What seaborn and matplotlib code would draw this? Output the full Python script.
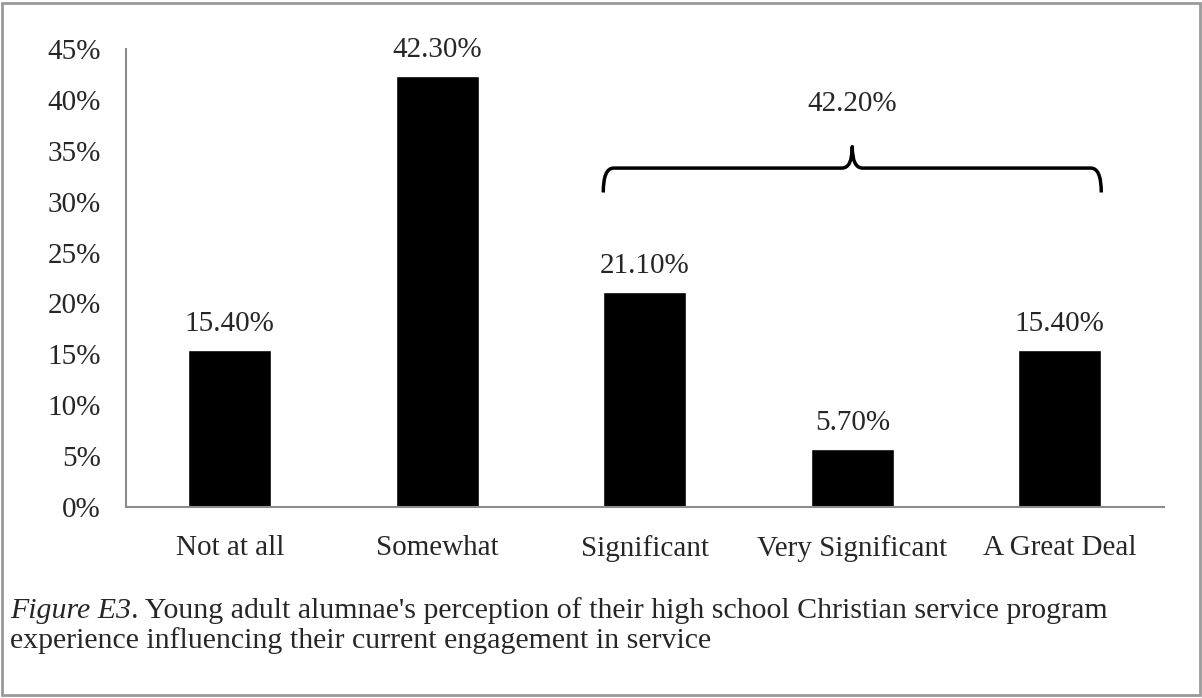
import matplotlib
matplotlib.use("Agg")
import matplotlib.pyplot as plt
from matplotlib.path import Path
from matplotlib.patches import PathPatch, Rectangle
import seaborn as sns
import pandas as pd

categories = ["Not at all", "Somewhat", "Significant", "Very Significant", "A Great Deal"]
percentages = [15.4, 42.3, 21.1, 5.7, 15.4]
y_ticks = [0, 5, 10, 15, 20, 25, 30, 35, 40, 45]
caption_italic = "Figure E3"
caption_line1 = ". Young adult alumnae's perception of their high school Christian service program"
caption_line2 = "experience influencing their current engagement in service"

sns.set_theme(style="white")
plt.rcParams["font.family"] = ["Liberation Serif", "DejaVu Serif"]

FS = 21
CAP_FS = 21.5

df = pd.DataFrame({"category": categories, "pct": percentages})

fig = plt.figure(figsize=(12.02, 6.98), dpi=100)
ax = fig.add_axes([0.1048, 0.2736, 0.8632, 0.6562])

sns.barplot(data=df, x="category", y="pct", color="black", width=0.4,
            saturation=1, ax=ax)

ax.set_ylim(0, 45)
ax.set_xlim(-0.5, len(categories) - 0.5)
ax.set_yticks(y_ticks)
ax.set_yticklabels([f"{t}%" for t in y_ticks], fontsize=FS)
ax.set_xlabel("")
ax.set_ylabel("")

# category tick marks sit between the bars
ax.set_xticks(range(len(categories)))
ax.set_xticklabels(categories, fontsize=FS)
ax.tick_params(axis="x", length=0, pad=20)
ax.set_xticks([i + 0.5 for i in range(-1, len(categories))], minor=True)
ax.tick_params(axis="x", which="minor", length=6, width=1.5, color="#8c8c8c", direction="out")
ax.tick_params(axis="y", length=6, width=1.5, color="#8c8c8c", direction="out", pad=12)

for side in ["top", "right"]:
    ax.spines[side].set_visible(False)
for side in ["left", "bottom"]:
    ax.spines[side].set_color("#8c8c8c")
    ax.spines[side].set_linewidth(1.5)

# value labels above each bar
for i, v in enumerate(percentages):
    ax.text(i, v + 2.6, f"{v:.2f}%", ha="center", va="center", fontsize=FS)

# brace over the upper three response levels with their combined share
group = [2, 3, 4]
group_total = sum(percentages[i] for i in group)
x0, x1 = group[0] - 0.2, group[-1] + 0.2
xm = (x0 + x1) / 2
yb, yh, yt = 30.9, 33.3, 35.4
r = 0.05
verts = [
    (x0, yb), (x0, yh), (x0 + r, yh),
    (xm - r, yh), (xm, yh), (xm, yt),
    (xm, yh), (xm + r, yh),
    (x1 - r, yh), (x1, yh), (x1, yb),
]
codes = [
    Path.MOVETO, Path.CURVE3, Path.CURVE3,
    Path.LINETO, Path.CURVE3, Path.CURVE3,
    Path.CURVE3, Path.CURVE3,
    Path.LINETO, Path.CURVE3, Path.CURVE3,
]
ax.add_patch(PathPatch(Path(verts, codes), fill=False, lw=2.5, color="black",
                       capstyle="butt", joinstyle="round", clip_on=False))
ax.text(xm, 39.6, f"{group_total:.2f}%", ha="center", va="center", fontsize=FS)

# caption
cap = fig.text(0.0083, 0.1146, caption_italic, fontsize=CAP_FS, style="italic",
               ha="left", va="baseline")
fig.canvas.draw()
bb = cap.get_window_extent()
x_after = fig.transFigure.inverted().transform((bb.x1, bb.y0))[0]
fig.text(x_after, 0.1146, caption_line1, fontsize=CAP_FS, ha="left", va="baseline")
fig.text(0.0083, 0.0716, caption_line2, fontsize=CAP_FS, ha="left", va="baseline")

# figure frame
fig.patches.append(Rectangle((0.002, 0.004), 0.996, 0.992, transform=fig.transFigure,
                             fill=False, edgecolor="#9a9a9a", lw=2))

fig.savefig("out.png", dpi=100)
